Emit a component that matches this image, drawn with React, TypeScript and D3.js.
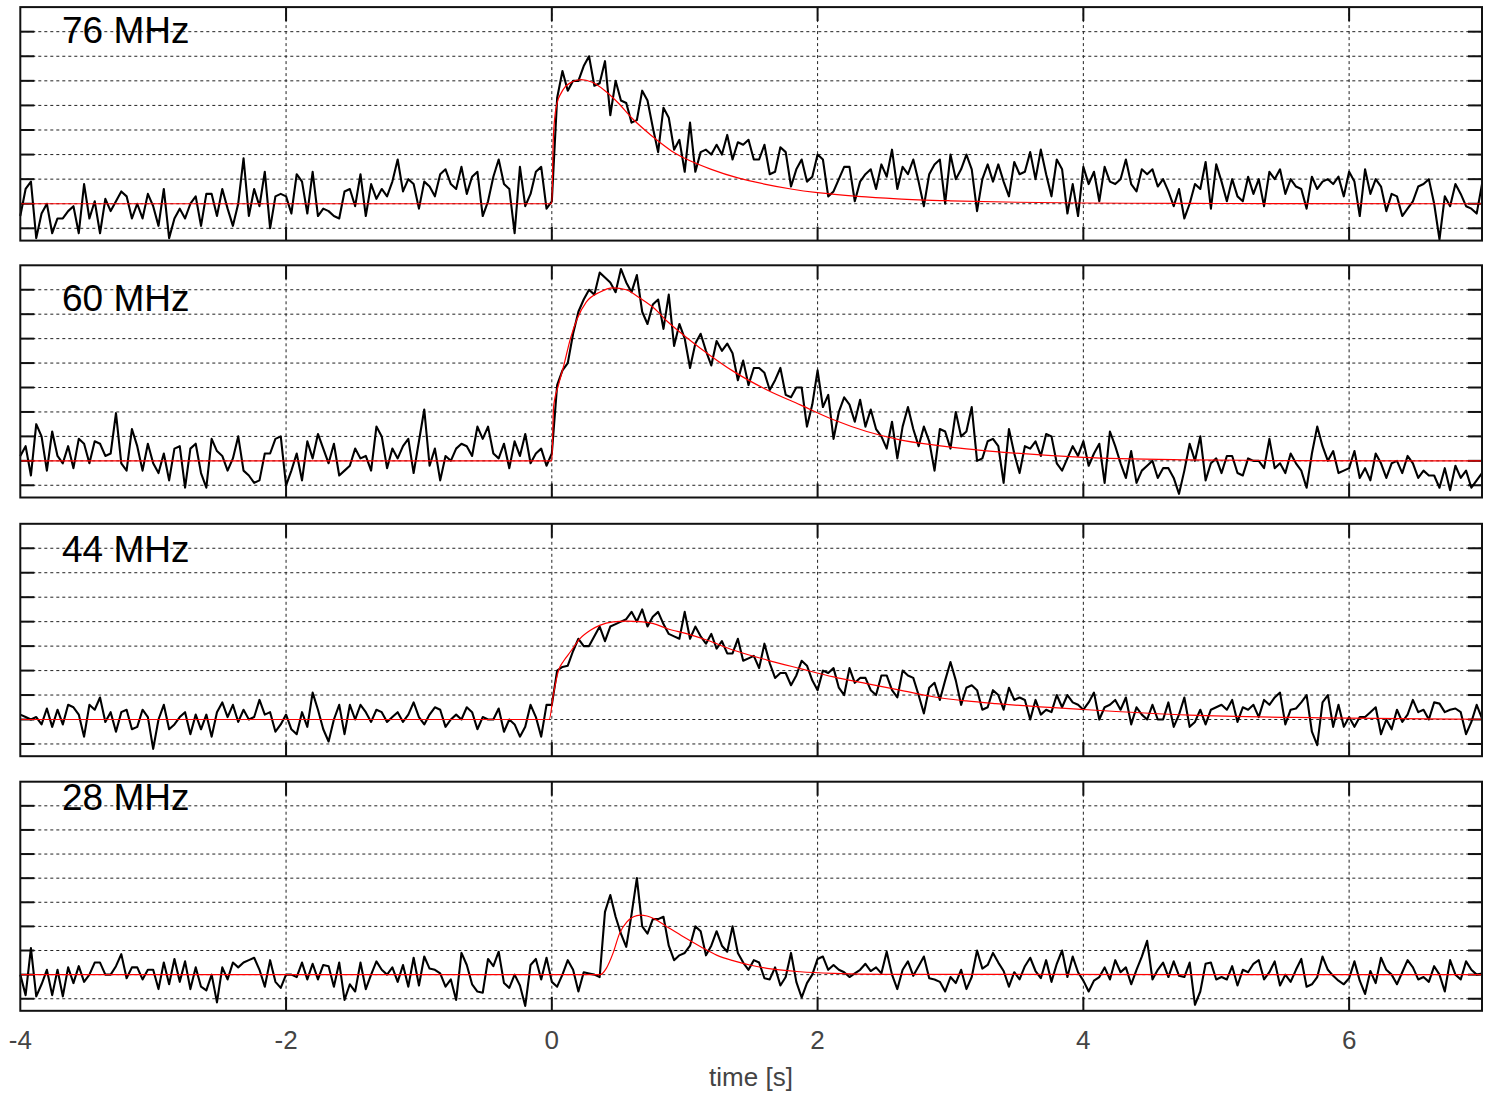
import React from "react";
import * as d3 from "d3";

// ---- data (sampled every 0.04 s from t = -4 s) ----
const T0 = -4;
const DT = 0.04;

const v76 = [
  -0.5, 0.6, 0.9, -1.4, -0.4, 0.0, -1.2, -0.6, -0.6, -0.3,
  -0.1, -1.2, 0.8, -0.6, 0.1, -1.2, 0.2, -0.3, 0.1, 0.5,
  0.3, -0.6, 0.0, -0.6, 0.4, -0.1, -0.9, 0.6, -1.4, -0.6,
  -0.2, -0.6, 0.0, 0.3, -0.9, 0.4, 0.4, -0.5, 0.6, -0.2,
  -0.9, 0.0, 1.85, -0.5, 0.6, -0.1, 1.3, -1.0, 0.3, 0.4,
  0.3, -0.4, 1.2, 0.9, -0.4, 1.3, -0.5, -0.2, -0.3, -0.5,
  -0.6, 0.5, 0.6, -0.1, 1.2, -0.5, 0.8, 0.2, 0.6, 0.3,
  0.9, 1.8, 0.5, 1.0, 0.8, -0.2, 0.9, 0.7, 0.3, 1.2,
  1.4, 0.8, 0.6, 1.5, 0.4, 1.1, 1.3, -0.5, 0.1, 1.1,
  1.8, 0.8, 0.6, -1.2, 1.5, -0.1, 0.4, 1.3, 1.5, -0.2,
  0.1, 4.3, 5.4, 4.6, 5.0, 5.0, 5.6, 6.0, 4.8, 4.9,
  5.8, 3.6, 5.0, 4.2, 4.1, 3.3, 3.4, 4.6, 4.2, 3.1,
  2.1, 3.9, 3.5, 2.2, 2.6, 1.3, 3.3, 1.3, 2.1, 2.2,
  2.0, 2.4, 2.0, 2.8, 1.8, 2.5, 2.4, 2.6, 1.8, 1.8,
  2.4, 1.2, 1.3, 2.3, 2.1, 0.7, 1.4, 1.8, 0.9, 1.1,
  2.0, 1.8, 0.3, 0.5, 1.0, 1.5, 1.5, 0.1, 0.9, 1.2,
  1.4, 0.6, 1.6, 1.1, 2.2, 0.6, 1.5, 1.2, 1.8, 0.9,
  -0.1, 1.2, 1.6, 1.8, 0.0, 2.0, 1.0, 1.4, 2.0, 1.4,
  -0.3, 1.0, 1.6, 0.9, 1.6, 0.9, 0.3, 1.7, 1.2, 1.3,
  2.1, 1.0, 2.2, 1.2, 0.3, 1.8, 1.4, -0.4, 0.8, -0.5,
  1.5, 0.8, 1.3, 0.1, 1.5, 0.9, 0.8, 1.0, 1.8, 0.8,
  0.5, 1.4, 1.2, 1.4, 0.7, 1.0, 0.5, -0.1, 0.6, -0.6,
  0.0, 0.8, 0.6, 1.7, -0.2, 1.6, 0.9, 0.1, 1.0, 0.3,
  0.1, 1.1, 0.4, 1.0, -0.1, 1.3, 1.0, 1.4, 0.4, 1.0,
  0.7, 0.6, -0.2, 1.1, 0.6, 0.9, 1.0, 0.8, 1.1, 0.3,
  1.3, 0.9, -0.5, 1.4, 0.4, 1.0, 0.7, -0.3, 0.4, 0.3,
  -0.5, -0.2, 0.1, 0.7, 0.8, 1.0, 0.0, -1.45, 0.3, -0.1,
  0.8, 0.4, -0.1, -0.2, -0.4, 0.8,
];

const v60 = [
  0.2, 0.6, -0.6, 1.5, 1.0, -0.4, 1.2, 0.2, -0.1, 0.6,
  -0.3, 0.9, 0.7, -0.1, 0.8, 0.7, 0.2, 0.3, 1.95, -0.1,
  -0.4, 1.3, 0.6, -0.4, 0.7, -0.1, -0.5, 0.3, -0.8, 0.5,
  0.6, -1.1, 0.5, 0.7, -0.5, -1.1, 0.9, 0.4, 0.2, -0.4,
  0.1, 1.0, -0.4, -0.6, -0.9, -0.8, 0.3, 0.3, 0.9, 1.0,
  -1.0, -0.4, 0.3, -0.8, 0.8, 0.1, 1.1, 0.5, -0.1, 0.7,
  -0.6, -0.4, -0.2, 0.5, 0.1, 0.2, -0.4, 1.4, 1.0, -0.3,
  0.5, 0.1, 0.6, 0.9, -0.5, 0.8, 2.1, -0.2, 0.5, -0.8,
  0.2, 0.0, 0.5, 0.7, 0.6, 0.2, 1.4, 0.9, 1.4, 0.3,
  0.1, 0.7, -0.3, 0.8, 0.2, 1.1, -0.1, 0.3, 0.5, -0.2,
  0.3, 3.1, 3.7, 4.0, 5.2, 6.1, 6.6, 7.0, 6.8, 7.7,
  7.5, 7.3, 6.9, 7.85, 7.3, 6.9, 7.6, 6.1, 5.6, 6.4,
  6.6, 5.4, 6.8, 4.7, 5.6, 5.0, 3.8, 4.8, 5.2, 4.5,
  3.9, 4.9, 4.5, 4.8, 4.4, 3.3, 4.1, 3.1, 3.8, 3.8,
  3.6, 2.9, 3.3, 3.8, 2.7, 2.6, 3.0, 3.0, 1.4, 2.3,
  3.7, 2.2, 2.7, 0.9, 2.0, 2.6, 2.3, 1.6, 2.5, 1.4,
  2.1, 1.3, 1.0, 0.5, 1.6, 0.1, 1.4, 2.2, 1.3, 0.6,
  1.4, 0.8, -0.4, 1.3, 1.2, 0.5, 2.0, 1.0, 1.2, 2.2,
  0.0, 0.1, 0.8, 0.9, 0.6, -0.9, 1.3, 0.3, -0.5, 0.6,
  0.5, 0.8, 0.2, 1.1, 1.0, -0.1, -0.4, 0.1, 0.6, 0.2,
  0.8, -0.2, 0.3, 0.7, -0.9, 1.2, 0.6, -0.1, -0.7, 0.4,
  -0.9, -0.4, -0.2, 0.0, -0.7, -0.3, -0.3, -0.7, -1.35, -0.4,
  0.7, 0.0, 1.0, -0.8, -0.1, 0.1, -0.5, 0.2, 0.2, -0.5,
  -0.6, 0.1, 0.0, 0.0, -0.3, 0.9, -0.3, -0.1, -0.5, 0.3,
  -0.1, -0.4, -1.1, 0.3, 1.4, 0.6, 0.0, 0.4, -0.5, -0.4,
  -0.3, 0.4, -0.7, -0.3, -0.8, 0.3, -0.1, -0.7, -0.1, 0.0,
  -0.5, 0.2, -0.1, -0.7, -0.4, -0.6, -0.6, -1.1, -0.3, -1.2,
  -0.2, -0.7, -0.4, -1.1, -0.8, -0.5,
];

const v44 = [
  0.2, 0.1, 0.0, 0.1, -0.2, 0.45, -0.3, 0.4, -0.2, 0.6,
  0.5, 0.2, -0.7, 0.6, 0.4, 0.9, -0.1, 0.3, -0.5, 0.3,
  0.4, -0.4, -0.3, 0.4, 0.1, -1.2, 0.0, 0.6, -0.4, -0.2,
  0.1, 0.3, -0.6, 0.2, -0.4, 0.2, -0.7, 0.3, 0.7, 0.1,
  0.6, -0.1, 0.4, 0.0, 0.1, 0.8, 0.2, 0.3, -0.5, -0.2,
  0.2, -0.4, -0.6, 0.3, -0.3, 1.1, 0.4, -0.4, -0.9, 0.0,
  0.6, -0.6, 0.6, 0.0, 0.6, 0.3, -0.1, 0.4, 0.3, -0.1,
  0.1, 0.3, -0.1, 0.2, 0.7, 0.1, -0.2, 0.2, 0.5, 0.4,
  -0.3, 0.0, 0.2, 0.0, 0.5, 0.3, -0.4, 0.1, 0.0, 0.0,
  0.45, -0.5, 0.0, -0.2, -0.7, -0.3, 0.6, 0.1, -0.7, 0.6,
  0.6, 2.0, 2.15, 2.2, 2.8, 3.3, 3.0, 3.0, 3.4, 3.8,
  3.2, 3.8, 3.9, 4.0, 4.1, 4.4, 4.0, 4.5, 3.8, 4.2,
  4.4, 3.9, 3.5, 3.4, 3.3, 4.4, 3.3, 3.8, 3.4, 3.1,
  3.5, 2.9, 3.2, 2.7, 2.7, 3.3, 2.4, 2.5, 2.6, 2.1,
  3.1, 2.3, 1.7, 1.9, 1.9, 1.4, 1.8, 2.4, 2.2, 1.6,
  1.2, 2.0, 1.9, 2.1, 1.3, 1.0, 2.1, 1.5, 1.7, 1.7,
  1.2, 1.0, 1.8, 1.8, 1.2, 0.9, 2.0, 1.8, 1.7, 1.0,
  0.25, 1.3, 1.5, 0.8, 1.6, 2.35, 1.6, 0.6, 1.3, 1.4,
  1.2, 0.4, 0.5, 1.2, 1.0, 0.4, 1.3, 0.8, 0.9, 0.8,
  0.0, 0.8, 0.2, 0.4, 0.3, 1.0, 0.5, 1.0, 0.7, 0.6,
  0.4, 0.7, 1.1, 0.0, 0.5, 0.6, 0.8, 0.4, 0.9, -0.2,
  0.5, 0.2, 0.0, 0.6, 0.0, 0.0, 0.7, -0.3, 0.2, 0.9,
  -0.3, -0.1, 0.4, -0.2, 0.4, 0.5, 0.6, 0.4, 0.8, -0.1,
  0.5, 0.4, 0.6, 0.1, 0.8, 0.6, 0.9, 1.1, -0.2, 0.4,
  0.45, 0.7, 1.0, -0.5, -1.05, 0.7, 1.0, -0.3, 0.6, -0.3,
  0.1, -0.3, 0.1, 0.1, 0.3, 0.5, -0.6, 0.0, -0.4, 0.4,
  -0.1, 0.2, 0.8, 0.3, 0.4, 0.0, 0.7, 0.65, 0.3, 0.4,
  0.45, 0.3, -0.6, -0.1, 0.6, 0.05,
];

const v28 = [
  0.0, -0.85, 1.1, -0.9, -0.4, 0.2, -0.85, 0.2, -0.9, 0.3,
  -0.35, 0.35, -0.3, 0.0, 0.5, 0.5, 0.0, 0.0, 0.35, 0.85,
  -0.15, 0.3, 0.3, -0.2, 0.2, 0.2, -0.6, 0.5, -0.4, 0.65,
  -0.3, 0.55, -0.6, 0.3, -0.5, -0.65, 0.0, -1.15, 0.3, -0.2,
  0.5, 0.3, 0.5, 0.6, 0.7, 0.2, -0.5, 0.6, -0.3, -0.55,
  0.0, 0.0, -0.1, 0.5, -0.2, 0.45, -0.2, 0.4, 0.35, -0.5,
  0.5, -1.05, -0.4, -0.7, 0.5, -0.6, 0.0, 0.55, 0.2, 0.0,
  0.3, -0.3, 0.4, -0.5, 0.7, -0.45, 0.75, 0.25, 0.2, 0.05,
  -0.5, -0.2, -1.05, 0.9, 0.4, -0.4, -0.7, -0.75, 0.65, 0.35,
  0.95, -0.35, -0.55, 0.0, -0.45, -1.3, 0.4, 0.65, -0.2, 0.7,
  -0.3, -0.5, 0.0, 0.6, 0.2, -0.7, 0.1, 0.05, 0.0, -0.1,
  2.6, 3.3, 2.4, 1.7, 1.15, 2.5, 4.0, 2.0, 1.7, 2.3,
  2.3, 2.4, 1.2, 0.6, 0.8, 0.9, 1.2, 2.0, 1.8, 0.8,
  1.2, 1.8, 1.2, 0.95, 2.0, 0.9, 0.5, 0.2, 0.6, 0.5,
  -0.15, -0.2, 0.3, -0.45, -0.1, 0.9, -0.3, -0.95, -0.35, 0.0,
  0.65, 0.75, 0.2, 0.4, 0.2, 0.1, -0.1, 0.05, 0.2, 0.45,
  0.15, 0.3, 0.05, 0.95, 0.0, -0.6, 0.2, 0.55, -0.05, 0.35,
  0.75, -0.15, -0.2, -0.3, -0.7, -0.1, -0.35, 0.2, -0.6, -0.1,
  1.0, 0.25, 0.4, 0.9, 0.5, 0.15, -0.5, 0.1, -0.2, 0.35,
  0.7, 0.15, -0.15, 0.6, -0.3, 0.45, 1.0, -0.1, 0.75, 0.1,
  -0.25, -0.7, -0.25, -0.1, 0.3, -0.2, 0.6, 0.1, 0.3, -0.4,
  0.2, 0.75, 1.4, -0.2, 0.2, 0.5, -0.1, 0.55, -0.05, -0.1,
  0.5, -1.25, -0.7, 0.45, 0.5, -0.2, -0.1, -0.2, 0.35, -0.45,
  0.2, 0.1, 0.45, 0.6, -0.2, 0.1, 0.55, -0.45, 0.0, -0.3,
  0.2, 0.65, -0.5, -0.4, -0.1, 0.75, 0.2, -0.05, -0.25, -0.4,
  -0.15, 0.55, -0.25, -0.8, 0.15, -0.35, 0.7, 0.2, 0.0, -0.4,
  0.1, 0.6, 0.3, -0.2, -0.1, -0.3, 0.35, 0.0, -0.7, 0.6,
  0.0, -0.2, 0.55, 0.2, 0.0, 0.05,
];

// fitted curves (red): times and values
const fit76T = [-4, 0, 0.01, 0.02, 0.04, 0.07, 0.1, 0.15, 0.22, 0.3, 0.4, 0.5, 0.6, 0.7, 0.8, 0.9, 1.0, 1.2, 1.4, 1.6, 1.8, 2.0, 2.3, 2.6, 3.0, 3.5, 4.0, 5.0, 7.0];
const fit76V = [0, 0, 2.5, 3.4, 4.1, 4.5, 4.75, 4.95, 5.05, 4.95, 4.6, 4.1, 3.5, 3.0, 2.55, 2.15, 1.85, 1.4, 1.05, 0.8, 0.6, 0.45, 0.3, 0.2, 0.12, 0.06, 0.03, 0.01, 0];

const fit60T = [-4, 0, 0.013, 0.05, 0.09, 0.14, 0.19, 0.26, 0.36, 0.46, 0.56, 0.665, 0.77, 0.87, 0.99, 1.12, 1.37, 1.62, 1.87, 2.12, 2.37, 2.62, 2.87, 3.12, 3.34, 4.0, 4.8, 5.5, 7.0];
const fit60V = [0, 0, 2.2, 3.1, 3.9, 5.0, 5.8, 6.5, 6.9, 7.08, 7.0, 6.65, 6.24, 5.7, 5.15, 4.6, 3.65, 2.9, 2.29, 1.68, 1.2, 0.86, 0.65, 0.49, 0.38, 0.14, 0.04, 0.01, 0];

const fit44T = [-4, -0.02, 0.013, 0.05, 0.09, 0.14, 0.21, 0.29, 0.36, 0.46, 0.565, 0.665, 0.765, 0.866, 1.02, 1.17, 1.37, 1.62, 1.87, 2.12, 2.37, 2.62, 2.87, 3.12, 3.34, 4.0, 4.8, 5.8, 7.0];
const fit44V = [0, 0, 1.06, 2.0, 2.4, 2.77, 3.3, 3.65, 3.85, 3.99, 4.02, 4.0, 3.92, 3.72, 3.5, 3.24, 2.83, 2.43, 2.08, 1.74, 1.47, 1.2, 0.93, 0.76, 0.65, 0.41, 0.18, 0.07, 0.01];

const fit28T = [-4, 0.364, 0.41, 0.46, 0.51, 0.565, 0.615, 0.665, 0.716, 0.766, 0.866, 0.99, 1.12, 1.24, 1.37, 1.49, 1.62, 1.87, 2.12, 2.5, 7.0];
const fit28V = [0, 0, 0.26, 0.88, 1.71, 2.19, 2.4, 2.47, 2.43, 2.33, 1.99, 1.57, 1.16, 0.81, 0.57, 0.4, 0.26, 0.12, 0.05, 0.01, 0];

const panelLabels = ["76 MHz", "60 MHz", "44 MHz", "28 MHz"];
const xTickValues = [-4, -2, 0, 2, 4, 6];
const xGridValues = [-2, 0, 2, 4, 6];
const yGridValues = [-1, 0, 1, 2, 3, 4, 5, 6, 7];
const xLabel = "time [s]";

// ---- layout ----
const W = 1493;
const H = 1093;
const X0 = 20.3;
const X1 = 1482;
const layout = [
  { top: 7.1, bottom: 240.6, labelY: 42.5 },
  { top: 265.3, bottom: 497.5, labelY: 311 },
  { top: 523.8, bottom: 756.2, labelY: 561.5 },
  { top: 781.7, bottom: 1010.8, labelY: 810 },
];
const FONT = "'Liberation Sans', Arial, Helvetica, sans-serif";

export default function App() {
  const x = d3.scaleLinear().domain([-4, 7]).range([X0, X1]);
  const series = [v76, v60, v44, v28];
  const fitsT = [fit76T, fit60T, fit44T, fit28T];
  const fitsV = [fit76V, fit60V, fit44V, fit28V];

  return (
    <svg
      width={W}
      height={H}
      viewBox={`0 0 ${W} ${H}`}
      style={{ position: "absolute", left: 0, top: 0, background: "#fff" }}
    >
      <rect x={0} y={0} width={W} height={H} fill="#fff" />
      {layout.map((L, p) => {
        const y = d3.scaleLinear().domain([-1.5, 8]).range([L.bottom, L.top]);
        const pts: [number, number][] = series[p].map((v, i) => [T0 + i * DT, v]);
        const line = d3
          .line<[number, number]>()
          .x((d) => x(d[0]))
          .y((d) => y(d[1]));
        const fitPts: [number, number][] = fitsT[p].map((t, i) => [t, fitsV[p][i]]);
        const fitLine = d3
          .line<[number, number]>()
          .x((d) => x(d[0]))
          .y((d) => y(d[1]))
          .curve(d3.curveMonotoneX);
        return (
          <g key={p}>
            {yGridValues.map((g) => (
              <line
                key={"h" + g}
                x1={X0}
                x2={X1}
                y1={y(g)}
                y2={y(g)}
                stroke="#222"
                strokeWidth={1}
                strokeDasharray="3,3"
              />
            ))}
            {xGridValues.map((g) => (
              <line
                key={"v" + g}
                x1={x(g)}
                x2={x(g)}
                y1={L.top}
                y2={L.bottom}
                stroke="#222"
                strokeWidth={1}
                strokeDasharray="3,3"
              />
            ))}
            {yGridValues.map((g) => (
              <g key={"t" + g}>
                <line x1={X0} x2={X0 + 14} y1={y(g)} y2={y(g)} stroke="#111" strokeWidth={2} />
                <line x1={X1 - 14} x2={X1} y1={y(g)} y2={y(g)} stroke="#111" strokeWidth={2} />
              </g>
            ))}
            {xGridValues.map((g) => (
              <g key={"xt" + g}>
                <line x1={x(g)} x2={x(g)} y1={L.top} y2={L.top + 14} stroke="#111" strokeWidth={2} />
                <line x1={x(g)} x2={x(g)} y1={L.bottom - 14} y2={L.bottom} stroke="#111" strokeWidth={2} />
              </g>
            ))}
            <path d={line(pts) || ""} fill="none" stroke="#000" strokeWidth={2.1} strokeLinejoin="round" />
            <path d={fitLine(fitPts) || ""} fill="none" stroke="#ff0000" strokeWidth={1.2} />
            <rect
              x={X0}
              y={L.top}
              width={X1 - X0}
              height={L.bottom - L.top}
              fill="none"
              stroke="#111"
              strokeWidth={2}
            />
            <text x={62} y={L.labelY} fontFamily={FONT} fontSize={37} fill="#000">
              {panelLabels[p]}
            </text>
          </g>
        );
      })}
      {xTickValues.map((t) => (
        <text
          key={"xl" + t}
          x={x(t)}
          y={1049}
          textAnchor="middle"
          fontFamily={FONT}
          fontSize={26}
          fill="#444"
        >
          {t}
        </text>
      ))}
      <text x={751} y={1086} textAnchor="middle" fontFamily={FONT} fontSize={26} fill="#444">
        {xLabel}
      </text>
    </svg>
  );
}
